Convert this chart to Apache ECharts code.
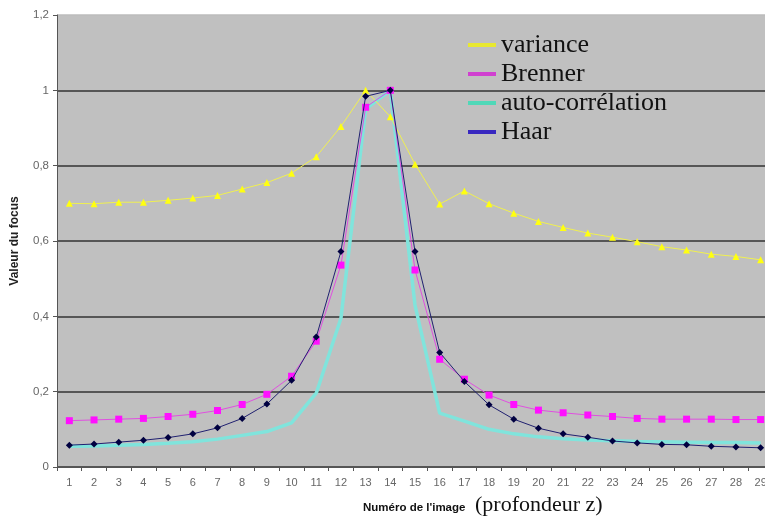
<!DOCTYPE html>
<html>
<head>
<meta charset="utf-8">
<script src="https://cdn.jsdelivr.net/npm/echarts@6/dist/echarts.min.js"></script>
<style>html,body{margin:0;padding:0;background:#fff;overflow:hidden;}#c{width:765px;height:517px;}</style>
</head>
<body>
<div id="c"></div>
<script>
const categories = ['1','2','3','4','5','6','7','8','9','10','11','12','13','14','15','16','17','18','19','20','21','22','23','24','25','26','27','28','29'];
const variance = [0.700,0.699,0.703,0.703,0.708,0.714,0.721,0.738,0.755,0.780,0.824,0.904,1.000,0.930,0.804,0.698,0.733,0.699,0.674,0.652,0.636,0.621,0.610,0.598,0.585,0.576,0.565,0.559,0.550];
const brenner = [0.123,0.125,0.127,0.129,0.134,0.140,0.150,0.166,0.193,0.241,0.334,0.536,0.955,1.000,0.523,0.286,0.233,0.191,0.166,0.151,0.144,0.138,0.134,0.129,0.127,0.127,0.127,0.126,0.126];
const autocorr = [0.055,0.056,0.058,0.060,0.063,0.067,0.074,0.084,0.094,0.117,0.196,0.395,0.950,1.000,0.430,0.143,0.122,0.100,0.088,0.080,0.075,0.072,0.070,0.068,0.067,0.066,0.065,0.065,0.064];
const haar = [0.058,0.061,0.066,0.071,0.078,0.088,0.104,0.129,0.167,0.230,0.345,0.572,0.984,1.000,0.572,0.304,0.227,0.165,0.127,0.103,0.088,0.079,0.069,0.064,0.060,0.059,0.055,0.053,0.051];
const seriesNames = ['variance','Brenner','auto-corrélation','Haar'];
const yTicks = {min:0, max:1.2, interval:0.2};

const chart = echarts.init(document.getElementById('c'), null, {renderer:'canvas'});
chart.setOption({
  animation:false,
  backgroundColor:'#ffffff',
  grid:{left:57, top:15, width:716, bottom:50, outerBoundsMode:'none', containLabel:false,
    show:true, backgroundColor:'#c0c0c0', borderWidth:0},
  legend:{
    orient:'vertical', left:463, top:27, itemGap:3, itemWidth:28, itemHeight:4, icon:'rect',
    textStyle:{fontFamily:'Liberation Serif', fontSize:26, color:'#111', lineHeight:26, padding:[0,0,0,0]},
    data:[
      {name:'variance', itemStyle:{color:'#e8e830'}},
      {name:'Brenner', itemStyle:{color:'#d040d0'}},
      {name:'auto-corrélation', itemStyle:{color:'#50d8b8'}},
      {name:'Haar', itemStyle:{color:'#3828c0'}}
    ]
  },
  xAxis:{
    type:'category', data:categories, boundaryGap:true,
    axisLine:{lineStyle:{color:'#555', width:1}},
    axisTick:{show:true, length:4, lineStyle:{color:'#555'}},
    axisLabel:{color:'#666', fontFamily:'Liberation Sans', fontSize:11, margin:10, interval:0},
    splitLine:{show:false}
  },
  yAxis:{
    type:'value', min:yTicks.min, max:yTicks.max, interval:yTicks.interval,
    name:'Valeur du focus', nameLocation:'middle', nameGap:36,
    nameTextStyle:{fontFamily:'Liberation Sans', fontSize:12, fontWeight:'bold', color:'#222'},
    axisLine:{show:true, lineStyle:{color:'#555'}},
    axisTick:{show:true, length:4, lineStyle:{color:'#555'}},
    axisLabel:{color:'#666', fontFamily:'Liberation Sans', fontSize:11.5, margin:8,
      formatter:v => (Math.round(v*10)/10).toString().replace('.', ',')},
    splitLine:{show:true, lineStyle:{color:['#333','#333','#333','#333','#333','#333','#bcbcbc'], width:1.5}}
  },
  series:[
    {name:'auto-corrélation', type:'line', data:autocorr, showSymbol:false, symbol:'none', z:1,
      lineStyle:{color:'#80e4dc', width:3.5}, itemStyle:{color:'#80e4dc'}},
    {name:'variance', type:'line', data:variance, symbol:'triangle', symbolSize:7, z:2,
      lineStyle:{color:'#f0f050', width:1}, itemStyle:{color:'#ffff10'}},
    {name:'Brenner', type:'line', data:brenner, symbol:'rect', symbolSize:7, z:3,
      lineStyle:{color:'#e050e0', width:1}, itemStyle:{color:'#ff10ff'}},
    {name:'Haar', type:'line', data:haar, symbol:'diamond', symbolSize:7, z:4,
      lineStyle:{color:'#202070', width:1}, itemStyle:{color:'#000040'}}
  ],
  graphic:[
    {type:'text', left:363, top:502, style:{text:"Numéro de l'image", font:'bold 11.5px "Liberation Sans"', fill:'#111'}},
    {type:'text', left:475, top:494, style:{text:'(profondeur z)', font:'22px "Liberation Serif"', fill:'#111'}}
  ]
});
</script>
</body>
</html>
